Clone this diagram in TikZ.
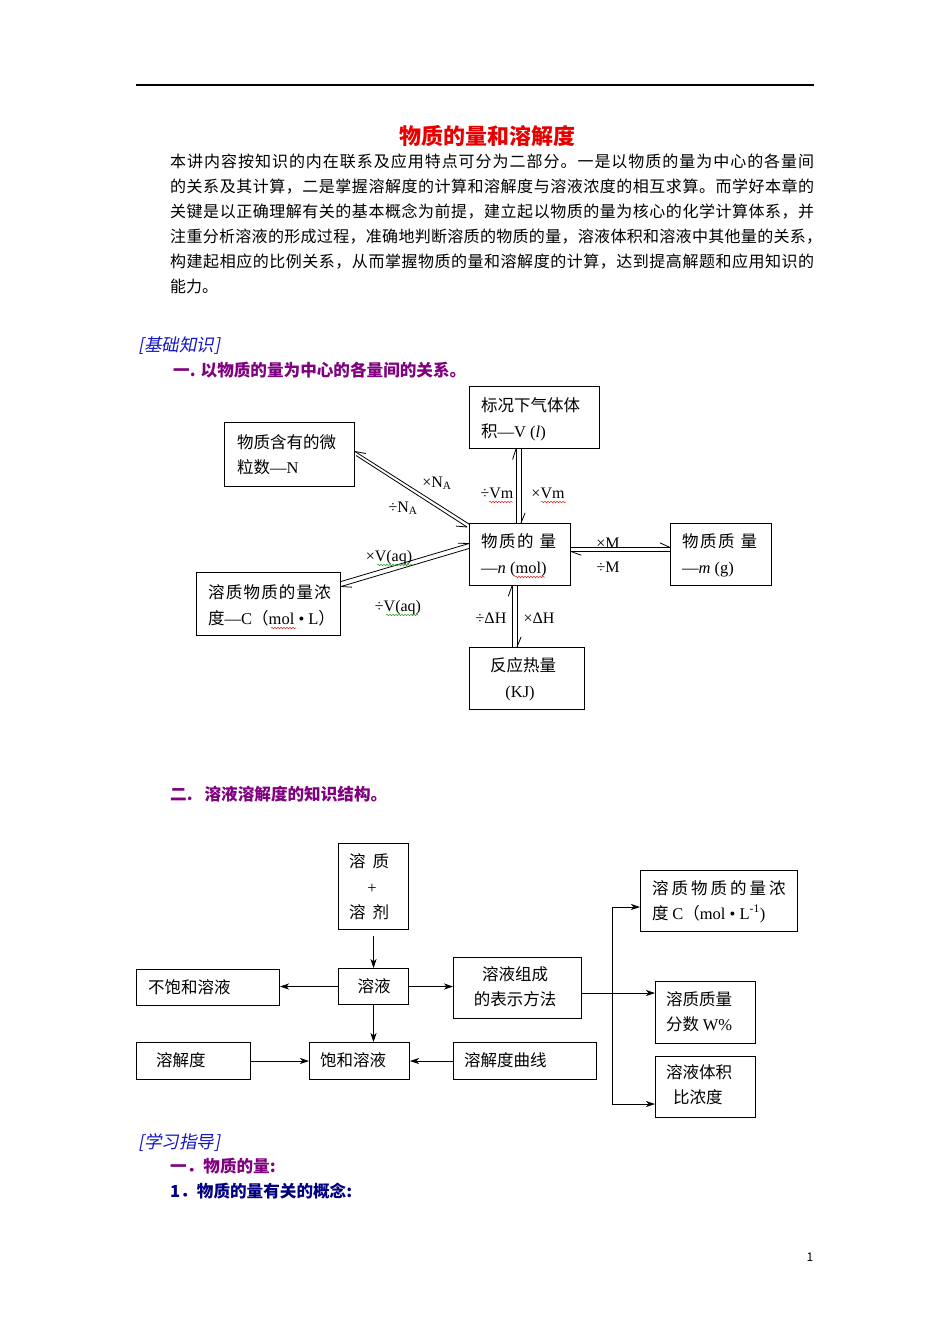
\documentclass[tikz,border=0pt]{standalone}
\usepackage{fontspec}
\setmainfont{Noto Sans CJK SC}
\newfontfamily\tm{Liberation Serif}
\newfontfamily\cjkit[FakeSlant=0.2]{Noto Sans CJK SC}
\usetikzlibrary{calc,arrows.meta,decorations.pathmorphing}
\definecolor{titred}{RGB}{230,0,0}
\definecolor{hdblue}{RGB}{20,20,200}
\definecolor{hdpurple}{RGB}{128,0,128}
\definecolor{hdnavy}{RGB}{0,0,128}
\definecolor{wavred}{RGB}{220,40,40}
\definecolor{wavgreen}{RGB}{40,160,40}
\newcommand{\fs}[1]{\fontsize{#1}{#1}\selectfont}
\newcommand{\barb}[3]{\draw[ln] (#1) -- ($(#1)!11pt!#3:(#2)$);}
\def\spreadrd#1{\ifx#1\relax\else#1\hfil\expandafter\spreadrd\fi}
\newcommand{\spreadline}[2]{\makebox[#1][s]{\spreadrd#2\relax\unskip}}
\tikzset{
 bx/.style={draw, line width=1pt, inner sep=0pt, anchor=north west},
 tx/.style={anchor=base west, inner sep=0pt, font=\fs{16.5}},
 txc/.style={anchor=base, inner sep=0pt, font=\fs{16.5}},
 body/.style={anchor=base west, inner sep=0pt, font=\fs{16}},
 lab/.style={anchor=base, inner sep=0pt, font=\tm\fs{16}},
 ln/.style={line width=0.8pt},
 arr/.style={line width=0.8pt, -{Stealth[length=9pt,width=6pt,inset=2.5pt]}},
 wav/.style={decorate, decoration={snake, amplitude=0.8pt, segment length=3pt}, line width=0.5pt},
 hd/.style={anchor=base west, inner sep=0pt, font=\fs{16.6}\bfseries},
}
\begin{document}
\begin{tikzpicture}[x=1pt,y=-1pt]
\fill[white] (0,0) rectangle (950,1344);
\useasboundingbox (0,0) rectangle (950,1344);
\draw[line width=1.2pt] (136,85) -- (814,85);

% title and paragraph
\node[anchor=base, inner sep=0pt, font=\fs{22}\bfseries, text=titred] (title) at (487,144) {物质的量和溶解度};
\node[body] (p1) at (170,167) {\spreadline{644pt}{本讲内容按知识的内在联系及应用特点可分为二部分。一是以物质的量为中心的各量间}};
\node[body] (p2) at (170,192) {\spreadline{644pt}{的关系及其计算，二是掌握溶解度的计算和溶解度与溶液浓度的相互求算。而学好本章的}};
\node[body] (p3) at (170,217) {\spreadline{644pt}{关键是以正确理解有关的基本概念为前提，建立起以物质的量为核心的化学计算体系，并}};
\node[body] (p4) at (170,242) {\spreadline{652pt}{注重分析溶液的形成过程，准确地判断溶质的物质的量，溶液体积和溶液中其他量的关系，}};
\node[body] (p5) at (170,267) {\spreadline{644pt}{构建起相应的比例关系，从而掌握物质的量和溶解度的计算，达到提高解题和应用知识的}};
\node[body] (p6) at (170,292) {能力。};

\node[anchor=base west, inner sep=0pt, font=\cjkit\fs{17.5}, text=hdblue] (h1) at (138,351) {[基础知识]};
\node[hd, text=hdpurple] (h2) at (173,376) {一. 以物质的量为中心的各量间的关系。};

% diagram 1 boxes
\node[bx, minimum width=130pt, minimum height=64pt] (A) at (224,422) {};
\node[bx, minimum width=130pt, minimum height=62pt] (B) at (469,386) {};
\node[bx, minimum width=101pt, minimum height=62pt] (n) at (469,523) {};
\node[bx, minimum width=101pt, minimum height=62pt] (m) at (670,523) {};
\node[bx, minimum width=144pt, minimum height=63pt] (c) at (196,572) {};
\node[bx, minimum width=115pt, minimum height=62pt] (h) at (469,647) {};

\node[tx] (A1) at (237,448) {物质含有的微};
\node[tx] (A2) at (237,473) {粒数{\tm —N}};
\node[tx] (B1) at (481,411) {标况下气体体};
\node[tx] (B2) at (481,437) {积{\tm —V (\textit{l})}};
\node[tx] (n1) at (481,547) {物\hspace{1.5pt}质\hspace{1.5pt}的\hspace{6pt}量};
\node[tx] (n2) at (481,573) {{\tm —\textit{n} (mol)}};
\node[tx] (m1) at (682,547) {物\hspace{1.5pt}质\hspace{1.5pt}质\hspace{6pt}量};
\node[tx] (m2) at (682,573) {{\tm —\textit{m} (g)}};
\node[tx] (c1) at (208,598) {溶\hspace{1.2pt}质\hspace{1.2pt}物\hspace{1.2pt}质\hspace{1.2pt}的\hspace{1.2pt}量\hspace{1.2pt}浓};
\node[tx] (c2) at (208,624) {度{\tm —C}（{\tm mol • L}）};
\node[txc] (h1t) at (523,671) {反应热量};
\node[txc] (h2t) at (520,697) {{\tm (KJ)}};

% diagram 1 connectors
\coordinate (an1s) at ($(A.east)+(0,-3)$);
\coordinate (an1e) at ($(n.north west)+(0,1)$);
\coordinate (an2s) at ($(A.east)+(1,1)$);
\coordinate (an2e) at ($(n.north west)+(-2,4)$);
\draw[ln] (an1s) -- (an1e); \barb{an1s}{an1e}{22}
\draw[ln] (an2s) -- (an2e); \barb{an2e}{an2s}{28}

\coordinate (bn1s) at ($(B.south west)+(47,0)$);
\coordinate (bn1e) at ($(n.north west)+(47,0)$);
\coordinate (bn2s) at ($(B.south west)+(52,0)$);
\coordinate (bn2e) at ($(n.north west)+(52,0)$);
\draw[ln] (bn1s) -- (bn1e); \barb{bn1s}{bn1e}{-18}
\draw[ln] (bn2s) -- (bn2e); \barb{bn2e}{bn2s}{-22}

\coordinate (nm1s) at ($(n.east)+(0,-7)$);
\coordinate (nm1e) at ($(m.west)+(0,-7)$);
\coordinate (nm2s) at ($(n.east)+(0,-3)$);
\coordinate (nm2e) at ($(m.west)+(0,-3)$);
\draw[ln] (nm1s) -- (nm1e); \barb{nm1e}{nm1s}{-25}
\draw[ln] (nm2s) -- (nm2e); \barb{nm2s}{nm2e}{-20}

\coordinate (cn1s) at ($(c.east)+(0,-22.5)$);
\coordinate (cn1e) at ($(n.west)+(0,-11)$);
\coordinate (cn2s) at ($(c.east)+(0,-17.5)$);
\coordinate (cn2e) at ($(n.west)+(0,-6)$);
\draw[ln] (cn1s) -- (cn1e); \barb{cn1e}{cn1s}{-18}
\draw[ln] (cn2s) -- (cn2e); \barb{cn2s}{cn2e}{-20}

\coordinate (nh1s) at ($(n.south west)+(43,0)$);
\coordinate (nh1e) at ($(h.north west)+(43,0)$);
\coordinate (nh2s) at ($(n.south west)+(48,0)$);
\coordinate (nh2e) at ($(h.north west)+(48,0)$);
\draw[ln] (nh1s) -- (nh1e); \barb{nh1s}{nh1e}{-20}
\draw[ln] (nh2s) -- (nh2e); \barb{nh2e}{nh2s}{-22}

% labels
\node[lab] (l1) at (437,487) {×N\textsubscript{A}};
\node[lab] (l2) at (403,512) {÷N\textsubscript{A}};
\node[lab] (l3) at (497,498) {÷Vm};
\node[lab] (l4) at (548,498) {×Vm};
\node[lab] (l5) at (608,548) {×M};
\node[lab] (l6) at (608,572) {÷M};
\node[lab] (l7) at (389,561) {×V(aq)};
\node[lab] (l8) at (398,611) {÷V(aq)};
\node[lab] (l9) at (491,623) {÷ΔH};
\node[lab] (l10) at (539,623) {×ΔH};

% spell-check marks
\draw[wav, wavred] (489,502) -- (513,502);
\draw[wav, wavred] (541,502) -- (566,502);
\draw[wav, wavgreen] (377,565) -- (412,565);
\draw[wav, wavgreen] (386,615) -- (418,615);
\draw[wav, wavred] (271,628) -- (296,628);
\draw[wav, wavred] (515,577) -- (545,577);

% heading 2
\node[hd, text=hdpurple] (h3) at (170,800) {二.\hspace{12pt}溶液溶解度的知识结构。};

% diagram 2 boxes
\node[bx, minimum width=70pt, minimum height=86pt] (s) at (338,843) {};
\node[bx, minimum width=70pt, minimum height=36pt] (sol) at (338,968) {};
\node[bx, minimum width=143pt, minimum height=36pt] (un) at (136,969) {};
\node[bx, minimum width=128pt, minimum height=61pt] (comp) at (453,957) {};
\node[bx, minimum width=114pt, minimum height=37pt] (solub) at (136,1042) {};
\node[bx, minimum width=100pt, minimum height=37pt] (sat) at (309,1042) {};
\node[bx, minimum width=143pt, minimum height=37pt] (curve) at (453,1042) {};
\node[bx, minimum width=157pt, minimum height=61pt] (cb) at (640,870) {};
\node[bx, minimum width=100pt, minimum height=62pt] (w) at (655,981) {};
\node[bx, minimum width=100pt, minimum height=61pt] (v) at (655,1056) {};

\node[tx] (s1) at (349,867) {溶\hspace{7pt}质};
\node[txc] (s2) at (372,893) {{\tm +}};
\node[tx] (s3) at (349,918) {溶\hspace{7pt}剂};
\node[txc] (sol1) at (374,992) {溶液};
\node[tx] (un1) at (148,993) {不饱和溶液};
\node[txc] (comp1) at (515,980) {溶液组成};
\node[txc] (comp2) at (515,1005) {的表示方法};
\node[tx] (solub1) at (156,1066) {溶解度};
\node[tx] (sat1) at (320,1066) {饱和溶液};
\node[tx] (curve1) at (464,1066) {溶解度曲线};
\node[tx] (cb1) at (652,894) {溶\hspace{3pt}质\hspace{3pt}物\hspace{3pt}质\hspace{3pt}的\hspace{3pt}量\hspace{3pt}浓};
\node[tx] (cb2) at (652,919) {度 {\tm C}（{\tm mol • L\textsuperscript{-1})}};
\node[tx] (w1) at (666,1005) {溶质质量};
\node[tx] (w2) at (666,1030) {分数 {\tm W\%}};
\node[tx] (v1) at (666,1078) {溶液体积};
\node[tx] (v2) at (673,1103) {比浓度};

% diagram 2 arrows
\draw[arr] ($(s.south)+(0,6)$) -- (sol.north);
\draw[arr] (sol.west) -- (sol.west -| un.east);
\draw[arr] (sol.east) -- (sol.east -| comp.west);
\draw[arr] (sol.south) -- (sol.south |- sat.north);
\draw[arr] (solub.east) -- (solub.east -| sat.west);
\draw[arr] (curve.west) -- (curve.west -| sat.east);
\coordinate (j) at (612,993);
\coordinate (jt) at (612,907);
\coordinate (jb) at (612,1104);
\draw[ln] (comp.east |- j) -- (j);
\draw[ln] (jt) -- (jb);
\draw[arr] (jt) -- (jt -| cb.west);
\draw[arr] (j) -- (j -| w.west);
\draw[arr] (jb) -- (jb -| v.west);

% bottom headings
\node[anchor=base west, inner sep=0pt, font=\cjkit\fs{17.5}, text=hdblue] (h4) at (138,1148) {[学习指导]};
\node[hd, text=hdpurple] (h5) at (170,1172) {一．物质的量:};
\node[hd, text=hdnavy] (h6) at (170,1197) {1．物质的量有关的概念:};
\node[anchor=base, inner sep=0pt, font=\fs{12}] (pg) at (810,1261) {1};
\end{tikzpicture}
\end{document}
